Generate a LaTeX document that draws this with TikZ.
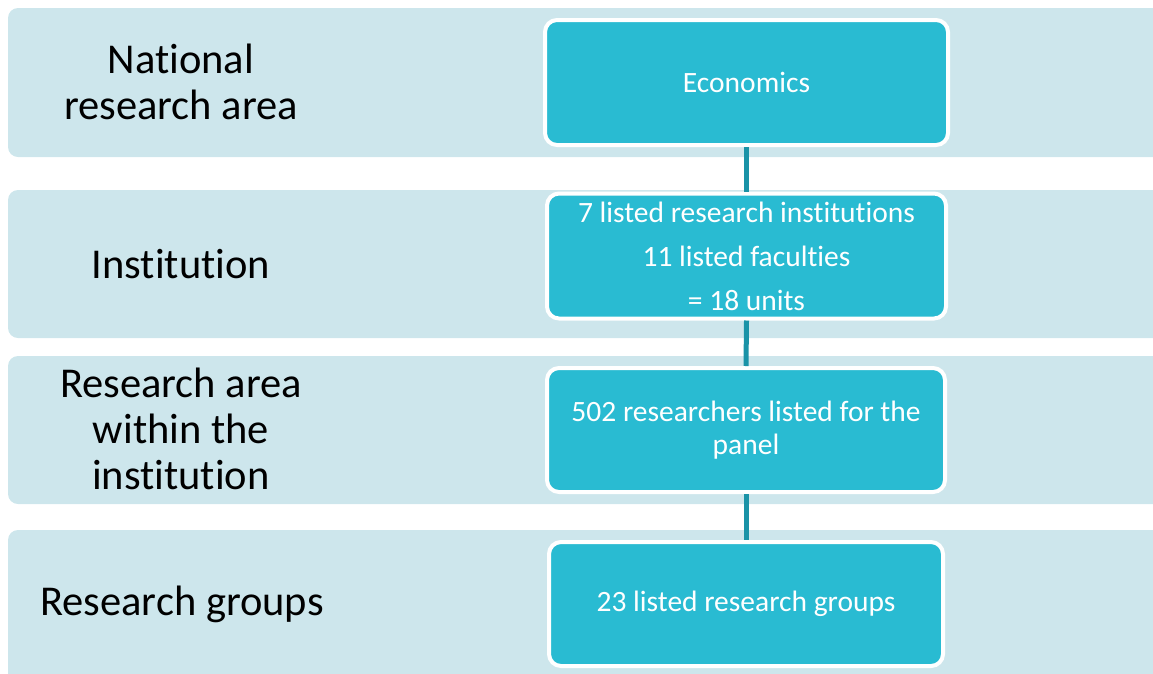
\documentclass[tikz,border=0pt]{standalone}
\usepackage{fontspec}
\setmainfont{Carlito}[Ligatures={NoCommon,NoContextual}, Contextuals=NoAlternate, RawFeature=-liga, RawFeature=-clig, RawFeature=-calt]
\usetikzlibrary{positioning}

\definecolor{bandblue}{HTML}{CDE6EC}
\definecolor{boxteal}{HTML}{29BBD2}
\definecolor{linkteal}{HTML}{1A93A7}

\tikzset{
	band/.style={fill=bandblue, draw=none, rounded corners=10},
	tealbox/.style={rectangle, rounded corners=12, fill=boxteal, draw=white, line width=4,
		text=white, align=center, inner sep=0, font=\fontsize{29.5}{33}\selectfont},
	levelname/.style={align=center, text=black, inner sep=0, font=\fontsize{42.5}{46}\selectfont},
	link/.style={draw=linkteal, line width=5},
}

\begin{document}
\begin{tikzpicture}[x=1pt, y=-1pt]
		%%%%% START %%%%%
		\useasboundingbox (0, 0) rectangle (1153, 673);
		\clip (0, 0) rectangle (1153, 673);
		
		% light bands, open on the right
		\fill[band] (8, 8) rectangle (1175, 157);
		\fill[band] (8, 190) rectangle (1175, 338);
		\fill[band] (8, 356) rectangle (1175, 504);
		\fill[band] (8, 530) rectangle (1175, 690);
		
		% level names
		\node[levelname] (national) at (181, 82) {National\\research area};
		\node[levelname] (institution) at (181, 264) {Institution};
		\node[levelname] (withinarea) at (181, 429) {Research area\\within the\\institution};
		\node[levelname] (groups) at (182, 604) {Research groups};
		
		% boxes
		\node[tealbox, minimum width=403, minimum height=125] (economics) at (746.5, 82.5) {Economics};
		\node[tealbox, minimum width=399, minimum height=125, font=\fontsize{29.5}{44}\selectfont] (units) at (746.5, 256)
			{7 listed research institutions\\11 listed faculties\\= 18 units};
		\node[tealbox, minimum width=398, minimum height=124] (researchers) at (746, 430)
			{502 researchers listed for the\\panel};
		\node[tealbox, minimum width=394, minimum height=124] (rgroups) at (746, 604) {23 listed research groups};
		
		% links between the boxes
		\draw[link] (economics.south) -- (units.north);
		\draw[link] (units.south) -- (researchers.north);
		\draw[link] (researchers.south) -- (rgroups.north);
		
		%%%%% END %%%%%
	\end{tikzpicture}
\end{document}
